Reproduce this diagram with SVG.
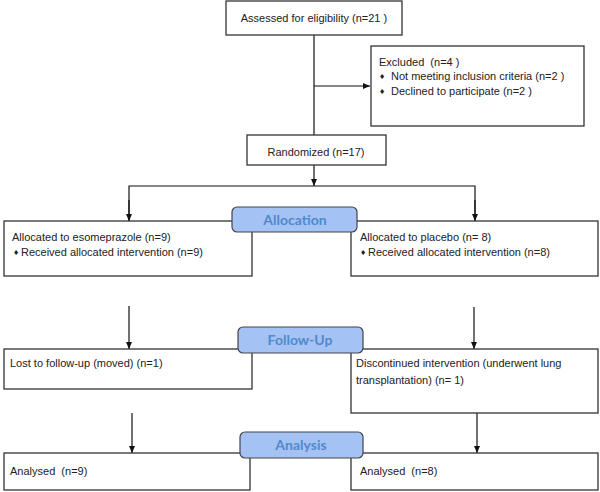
<svg xmlns="http://www.w3.org/2000/svg" width="600" height="492" viewBox="0 0 600 492">
<defs>
<marker id="ah" markerWidth="8" markerHeight="8" refX="7" refY="4" orient="auto" markerUnits="userSpaceOnUse">
<path d="M0,1 L7,4 L0,7 Z" fill="#111"/>
</marker>
<style>
.box{fill:#fff;stroke:#333;stroke-width:1.3}
.hdr{fill:#a4c2f4;stroke:#444;stroke-width:1.2}
.t{font-family:"Liberation Sans",Arial,sans-serif;font-size:11px;fill:#222}
.c{text-anchor:middle}
.h{font-family:Lato,"Open Sans",sans-serif;font-weight:bold;font-size:14px;fill:#5189cb;text-anchor:middle}
.b{font-family:"DejaVu Sans",sans-serif;font-size:7px;fill:#222}
.ln{fill:none;stroke:#111;stroke-width:1.2}
</style>
</defs>
<rect width="600" height="492" fill="#fff"/>
<g id="connectors">
<line class="ln" x1="314" y1="35" x2="314" y2="135"/>
<line class="ln" x1="314" y1="86" x2="370" y2="86" marker-end="url(#ah)"/>
<line class="ln" x1="314" y1="165" x2="314" y2="186" marker-end="url(#ah)"/>
<polyline class="ln" points="129,221 129,186 475,186 475,221"/>
<line class="ln" x1="129" y1="200" x2="129" y2="221" marker-end="url(#ah)"/>
<line class="ln" x1="475" y1="200" x2="475" y2="221" marker-end="url(#ah)"/>
<line class="ln" x1="129" y1="306" x2="129" y2="349" marker-end="url(#ah)"/>
<line class="ln" x1="474" y1="307" x2="474" y2="349" marker-end="url(#ah)"/>
<line class="ln" x1="132" y1="413" x2="132" y2="453" marker-end="url(#ah)"/>
<line class="ln" x1="477" y1="413" x2="477" y2="453" marker-end="url(#ah)"/>
</g>
<g id="assessed">
<rect class="box" x="226" y="1" width="176" height="34"/>
<text class="t c" x="314" y="22">Assessed for eligibility (n=21 )</text>
</g>
<g id="excluded">
<rect class="box" x="371" y="46" width="213" height="80"/>
<text class="t" x="379" y="66" xml:space="preserve">Excluded  (n=4 )</text>
<text class="b" x="379" y="79">♦</text>
<text class="t" x="391" y="80">Not meeting inclusion criteria (n=2 )</text>
<text class="b" x="379" y="94">♦</text>
<text class="t" x="391" y="95">Declined to participate (n=2 )</text>
</g>
<g id="randomized">
<rect class="box" x="247" y="135" width="139" height="30"/>
<text class="t c" x="316" y="156">Randomized (n=17)</text>
</g>
<g id="alloc-left">
<rect class="box" x="4" y="221" width="248" height="55"/>
<text class="t" x="12" y="241">Allocated to esomeprazole (n=9)</text>
<text class="b" x="13" y="255">♦</text>
<text class="t" x="21" y="256">Received allocated intervention (n=9)</text>
</g>
<g id="alloc-right">
<rect class="box" x="351" y="221" width="247" height="55"/>
<text class="t" x="360" y="241">Allocated to placebo (n= 8)</text>
<text class="b" x="360" y="255">♦</text>
<text class="t" x="368" y="256">Received allocated intervention (n=8)</text>
</g>
<g id="allocation">
<rect class="hdr" x="232" y="207" width="125" height="25" rx="5"/>
<text class="h" x="295" y="225">Allocation</text>
</g>
<g id="lost">
<rect class="box" x="4" y="349" width="248" height="40"/>
<text class="t" x="10" y="367">Lost to follow-up (moved) (n=1)</text>
</g>
<g id="discontinued">
<rect class="box" x="351" y="349" width="247" height="64"/>
<text class="t" x="356" y="367">Discontinued intervention (underwent lung</text>
<text class="t" x="356" y="384">transplantation) (n= 1)</text>
</g>
<g id="followup">
<rect class="hdr" x="238" y="327" width="125" height="26" rx="5"/>
<text class="h" x="300" y="345">Follow-Up</text>
</g>
<g id="analysed-left">
<rect class="box" x="4" y="453" width="246" height="37"/>
<text class="t" x="10" y="475" xml:space="preserve">Analysed  (n=9)</text>
</g>
<g id="analysed-right">
<rect class="box" x="351" y="453" width="247" height="37"/>
<text class="t" x="360" y="475" xml:space="preserve">Analysed  (n=8)</text>
</g>
<g id="analysis">
<rect class="hdr" x="240" y="432" width="123" height="26" rx="5"/>
<text class="h" x="301" y="450">Analysis</text>
</g>
</svg>
